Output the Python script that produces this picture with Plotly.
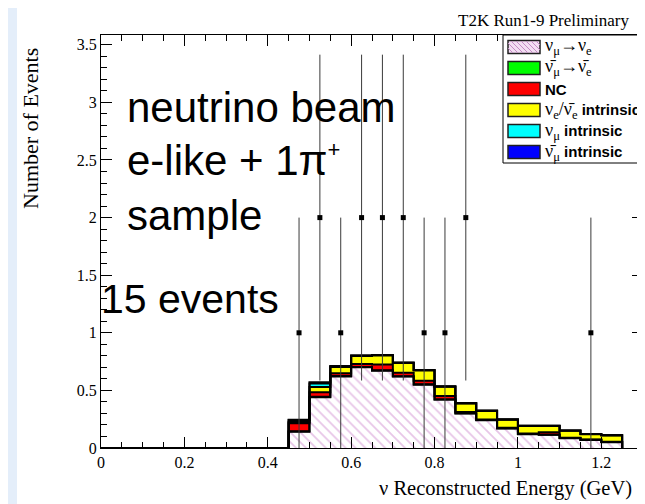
import numpy as np
import plotly.graph_objects as go

# ---------------- data ----------------
bin_edges = [0.00, 0.05, 0.10, 0.15, 0.20, 0.25, 0.30, 0.35, 0.40, 0.45,
             0.50, 0.55, 0.60, 0.65, 0.70, 0.75, 0.80, 0.85, 0.90, 0.95,
             1.00, 1.05, 1.10, 1.15, 1.20, 1.25]

numu_to_nue = [0, 0, 0, 0, 0, 0, 0, 0, 0,
               0.14, 0.44, 0.62, 0.70, 0.67, 0.62, 0.55, 0.42, 0.30, 0.24,
               0.17, 0.12, 0.115, 0.085, 0.07, 0.05]
numubar_to_nuebar = [0, 0, 0, 0, 0, 0, 0, 0, 0,
                     0.005, 0.005, 0.004, 0.004, 0.004, 0.003, 0.003, 0.002, 0.002, 0.002,
                     0.001, 0.001, 0.001, 0.001, 0.001, 0.001]
nc = [0, 0, 0, 0, 0, 0, 0, 0, 0,
      0.07, 0.04, 0.025, 0.025, 0.05, 0.03, 0.03, 0.03, 0.01, 0.005,
      0.005, 0.005, 0.02, 0.003, 0.003, 0.003]
nue_intrinsic = [0, 0, 0, 0, 0, 0, 0, 0, 0,
                 0.01, 0.045, 0.055, 0.07, 0.08, 0.085, 0.09, 0.08, 0.075, 0.075,
                 0.07, 0.065, 0.055, 0.06, 0.045, 0.055]
numu_intrinsic = [0, 0, 0, 0, 0, 0, 0, 0, 0,
                  0.015, 0.03, 0.005, 0.003, 0.003, 0.003, 0.003, 0.002, 0.002, 0.002,
                  0.002, 0.002, 0.002, 0.002, 0.002, 0.002]
numubar_intrinsic = [0, 0, 0, 0, 0, 0, 0, 0, 0,
                     0.005, 0.01, 0.002, 0.001, 0.001, 0.001, 0.001, 0.001, 0.001, 0.001,
                     0.001, 0.001, 0.001, 0.001, 0.001, 0.001]

data_energy = [0.475, 0.525, 0.575, 0.625, 0.675, 0.725, 0.775, 0.825, 0.875, 1.175]
data_events = [1, 2, 1, 2, 2, 2, 1, 1, 2, 1]

x_ticks = [0, 0.2, 0.4, 0.6, 0.8, 1.0, 1.2]
y_ticks = [0, 0.5, 1, 1.5, 2, 2.5, 3, 3.5]

components = [
    ("numu_nue", numu_to_nue, "white"),
    ("numubar_nuebar", numubar_to_nuebar, "#00ff00"),
    ("nc", nc, "#ff0000"),
    ("nue_int", nue_intrinsic, "#ffff00"),
    ("numu_int", numu_intrinsic, "#00ffff"),
    ("numubar_int", numubar_intrinsic, "#0000ff"),
]

# ---------------- geometry helpers (layout only) ----------------
L, T, W, H = 93, 27, 542, 413


def pxx(p):
    return (p - L) / W


def pxy(p):
    return (T + H - p) / H


fig = go.Figure()

lefts = bin_edges[:-1]
widths = [bin_edges[i + 1] - bin_edges[i] for i in range(len(lefts))]

for i, (name, vals, col) in enumerate(components):
    if i == 0:
        marker = dict(color="white",
                      pattern=dict(shape="\\", fgcolor="#cf8ccf", bgcolor="white",
                                   size=7, solidity=0.25),
                      line=dict(width=0))
    else:
        marker = dict(color=col, line=dict(width=0))
    fig.add_trace(go.Bar(x=lefts, y=vals, width=widths, offset=0,
                         marker=marker, showlegend=False, name=name))

# outlines of cumulative stack levels
cum = np.zeros(len(lefts))
for name, vals, col in components:
    cum = cum + np.array(vals)
    xs = list(bin_edges[:-1]) + [bin_edges[-1]]
    ys = list(cum) + [0.0]
    fig.add_trace(go.Scatter(x=xs, y=ys, mode="lines", line_shape="hv",
                             line=dict(color="black", width=2),
                             showlegend=False, hoverinfo="skip"))

# data points
fig.add_trace(go.Scatter(
    x=data_energy, y=data_events, mode="markers",
    marker=dict(symbol="square", size=5, color="black"),
    error_y=dict(type="data", array=list(np.sqrt(data_events)), width=0,
                 thickness=1, color="#3a3a3a"),
    showlegend=False))

serif = "Liberation Serif, Times New Roman, serif"
sans = "Liberation Sans, Arial, sans-serif"

axis_common = dict(showline=True, linecolor="black", linewidth=1, mirror="allticks",
                   ticks="inside", tickcolor="black", tickwidth=1, ticklen=11,
                   showgrid=False, zeroline=False,
                   tickfont=dict(family=serif, size=16, color="black"))

fig.update_layout(
    width=645, height=504,
    margin=dict(l=L, r=645 - L - W, t=T, b=504 - T - H),
    paper_bgcolor="white", plot_bgcolor="white",
    barmode="stack", bargap=0,
    xaxis=dict(range=[0, 1.3], tickvals=x_ticks,
               minor=dict(dtick=0.05, tick0=0, ticks="inside", ticklen=6, tickcolor="black"),
               **axis_common),
    yaxis=dict(range=[0, 3.585], tickvals=y_ticks,
               minor=dict(dtick=0.1, tick0=0, ticks="inside", ticklen=6, tickcolor="black"),
               **axis_common),
)

shapes = []
# light blue strip at the left edge
shapes.append(dict(type="rect", xref="paper", yref="paper", x0=pxx(0), x1=pxx(9),
                   y0=pxy(504), y1=pxy(0), fillcolor="#e4eefa", line=dict(width=0),
                   layer="below"))

# legend box
shapes.append(dict(type="rect", xref="paper", yref="paper", x0=pxx(495), x1=pxx(700),
                   y0=pxy(155), y1=pxy(27), fillcolor="white",
                   line=dict(color="black", width=1), layer="above"))

rows = [39, 60, 81, 102, 123, 144]
sw_x0, sw_x1 = 500, 532
legend_fills = ["#f3def3", "#00ff00", "#ff0000", "#ffff00", "#00ffff", "#0000ff"]
for r, fc in zip(rows, legend_fills):
    shapes.append(dict(type="rect", xref="paper", yref="paper",
                       x0=pxx(sw_x0), x1=pxx(sw_x1), y0=pxy(r + 6.5), y1=pxy(r - 6.5),
                       fillcolor=fc, line=dict(color="#202020", width=1.5), layer="above"))
# hatch lines on first swatch
r = rows[0]
for k in range(-12, 33, 5):
    xa, ya = sw_x0 + k, r - 6
    xb, yb = sw_x0 + k + 12, r + 6
    if xa < sw_x0:
        ya = ya + (sw_x0 - xa)
        xa = sw_x0
    if xb > sw_x1:
        yb = yb - (xb - sw_x1)
        xb = sw_x1
    if xb <= xa:
        continue
    shapes.append(dict(type="line", xref="paper", yref="paper",
                       x0=pxx(xa), y0=pxy(ya), x1=pxx(xb), y1=pxy(yb),
                       line=dict(color="#c58cc5", width=1), layer="above"))

fig.update_layout(shapes=shapes)

nu = "\u03bd"
nubar = "\u03bd\u0304"
sp = "<span style='font-family:Liberation Serif;font-size:18px'>"
legend_texts = [
    f"{sp}{nu}<sub>\u03bc</sub>\u2192{nu}<sub>e</sub></span>",
    f"{sp}{nubar}<sub>\u03bc</sub>\u2192{nubar}<sub>e</sub></span>",
    "<b>NC</b>",
    f"{sp}{nu}<sub>e</sub>/{nubar}<sub>e</sub></span><b> intrinsic</b>",
    f"{sp}{nu}<sub>\u03bc</sub></span><b> intrinsic</b>",
    f"{sp}{nubar}<sub>\u03bc</sub></span><b> intrinsic</b>",
]

annotations = []
for r, txt in zip(rows, legend_texts):
    annotations.append(dict(xref="paper", yref="paper", x=pxx(535), y=pxy(r),
                            xanchor="left", yanchor="middle", showarrow=False,
                            text=txt, font=dict(family=sans, size=15, color="black")))

big = dict(family=sans, size=42, color="black")
annotations += [
    dict(xref="paper", yref="paper", x=pxx(623), y=pxy(12), xanchor="right",
         yanchor="middle", showarrow=False, text="T2K Run1-9 Preliminary",
         font=dict(family=serif, size=17, color="black")),
    dict(xref="paper", yref="paper", x=pxx(22), y=pxy(121), xanchor="center",
         yanchor="middle", showarrow=False, text="Number of Events", textangle=-90,
         font=dict(family=serif, size=22, color="black")),
    dict(xref="paper", yref="paper", x=pxx(369), y=pxy(481), xanchor="left",
         yanchor="middle", showarrow=False, text=f"{nu} Reconstructed Energy (GeV)",
         font=dict(family=serif, size=20.5, color="black")),
    dict(xref="paper", yref="paper", x=pxx(117), y=pxy(99), xanchor="left",
         yanchor="middle", showarrow=False, text="neutrino beam", font=big),
    dict(xref="paper", yref="paper", x=pxx(117), y=pxy(152), xanchor="left",
         yanchor="middle", showarrow=False,
         text="e-like + 1\u03c0<sup><span style='font-size:22px'>+</span></sup>", font=big),
    dict(xref="paper", yref="paper", x=pxx(117), y=pxy(207), xanchor="left",
         yanchor="middle", showarrow=False, text="sample", font=big),
    dict(xref="paper", yref="paper", x=pxx(91), y=pxy(291), xanchor="left",
         yanchor="middle", showarrow=False, text="15 events",
         font=dict(family=sans, size=41, color="black")),
]
fig.update_layout(annotations=annotations)

fig.write_html("out.html")
